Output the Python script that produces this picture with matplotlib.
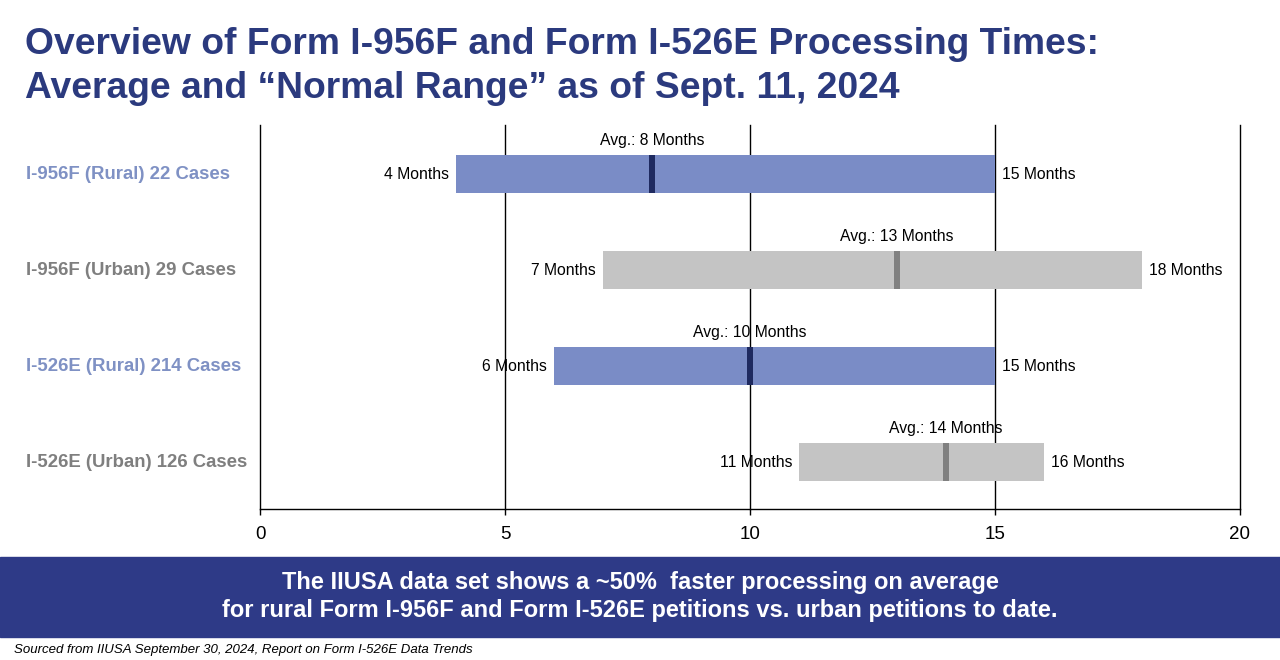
import matplotlib.pyplot as plt
from matplotlib.patches import Rectangle

plt.rcParams['font.family'] = ['Liberation Sans', 'DejaVu Sans']

# categories and values (months)
categories = ["I-956F (Rural) 22 Cases", "I-956F (Urban) 29 Cases",
              "I-526E (Rural) 214 Cases", "I-526E (Urban) 126 Cases"]
low = [4, 7, 6, 11]
high = [15, 18, 15, 16]
avg = [8, 13, 10, 14]
rural = [True, False, True, False]
x_ticks = [0, 5, 10, 15, 20]

bar_rural = "#7A8CC6"
bar_urban = "#C4C4C4"
avg_rural = "#1F2A60"
avg_urban = "#808080"
lab_rural = "#7F91C4"
lab_urban = "#7F7F7F"
navy = "#2B3A7E"

fig = plt.figure(figsize=(12.8, 6.6), dpi=100)
ax = fig.add_axes([260 / 1280, 1 - 509 / 660, 980 / 1280, 384 / 660])

ax.set_xlim(0, 20)
ax.set_ylim(3.5, -0.5)
for t in x_ticks:
    ax.axvline(t, color="black", lw=1, zorder=1, clip_on=False)

h = 0.39
dy = 0.02  # small nudge so the labels sit on the bar centre like the original
for i in range(len(categories)):
    ax.barh(i + 0.01, high[i] - low[i], left=low[i], height=h,
            color=bar_rural if rural[i] else bar_urban, zorder=2)
    ax.add_patch(Rectangle((avg[i] - 0.06, i + 0.01 - h / 2), 0.12, h,
                           color=avg_rural if rural[i] else avg_urban, zorder=3, lw=0))
    ax.text(avg[i], i - h / 2 - 0.07, f"Avg.: {avg[i]} Months", ha="center", va="bottom",
            fontsize=11.3, zorder=4)
    ax.text(low[i] - 0.14, i + dy, f"{low[i]} Months", ha="right", va="center", fontsize=11.3, zorder=4)
    ax.text(high[i] + 0.14, i + dy, f"{high[i]} Months", ha="left", va="center", fontsize=11.3, zorder=4)
    fig.text(26 / 1280, ax.transData.transform((0, i + dy))[1] / 660, categories[i],
             ha="left", va="center", fontsize=13.4, fontweight="bold",
             color=lab_rural if rural[i] else lab_urban)

for s in ["top", "right", "left"]:
    ax.spines[s].set_visible(False)
ax.spines["bottom"].set_linewidth(1)
ax.set_yticks([])
ax.set_xticks(x_ticks)
ax.tick_params(axis="x", length=4, width=1, labelsize=13.5, pad=8)

fig.text(25 / 1280, 1 - 45 / 660, "Overview of Form I-956F and Form I-526E Processing Times:",
         ha="left", va="center", fontsize=26.8, fontweight="bold", color=navy)
fig.text(25 / 1280, 1 - 88 / 660, "Average and \u201cNormal Range\u201d as of Sept. 11, 2024",
         ha="left", va="center", fontsize=26.8, fontweight="bold", color=navy)

fig.patches.append(Rectangle((0, 1 - 637 / 660), 1, 80 / 660, transform=fig.transFigure,
                             color="#2E3A87", zorder=0))
fig.text(0.5, 1 - 583 / 660, "The IIUSA data set shows a ~50%  faster processing on average",
         ha="center", va="center", fontsize=17, fontweight="bold", color="white")
fig.text(0.5, 1 - 611 / 660, "for rural Form I-956F and Form I-526E petitions vs. urban petitions to date.",
         ha="center", va="center", fontsize=17, fontweight="bold", color="white")

fig.text(14 / 1280, 1 - 650 / 660, "Sourced from IIUSA September 30, 2024, Report on Form I-526E Data Trends",
         ha="left", va="center", fontsize=9.5, style="italic")

fig.savefig("out.png", dpi=100)
